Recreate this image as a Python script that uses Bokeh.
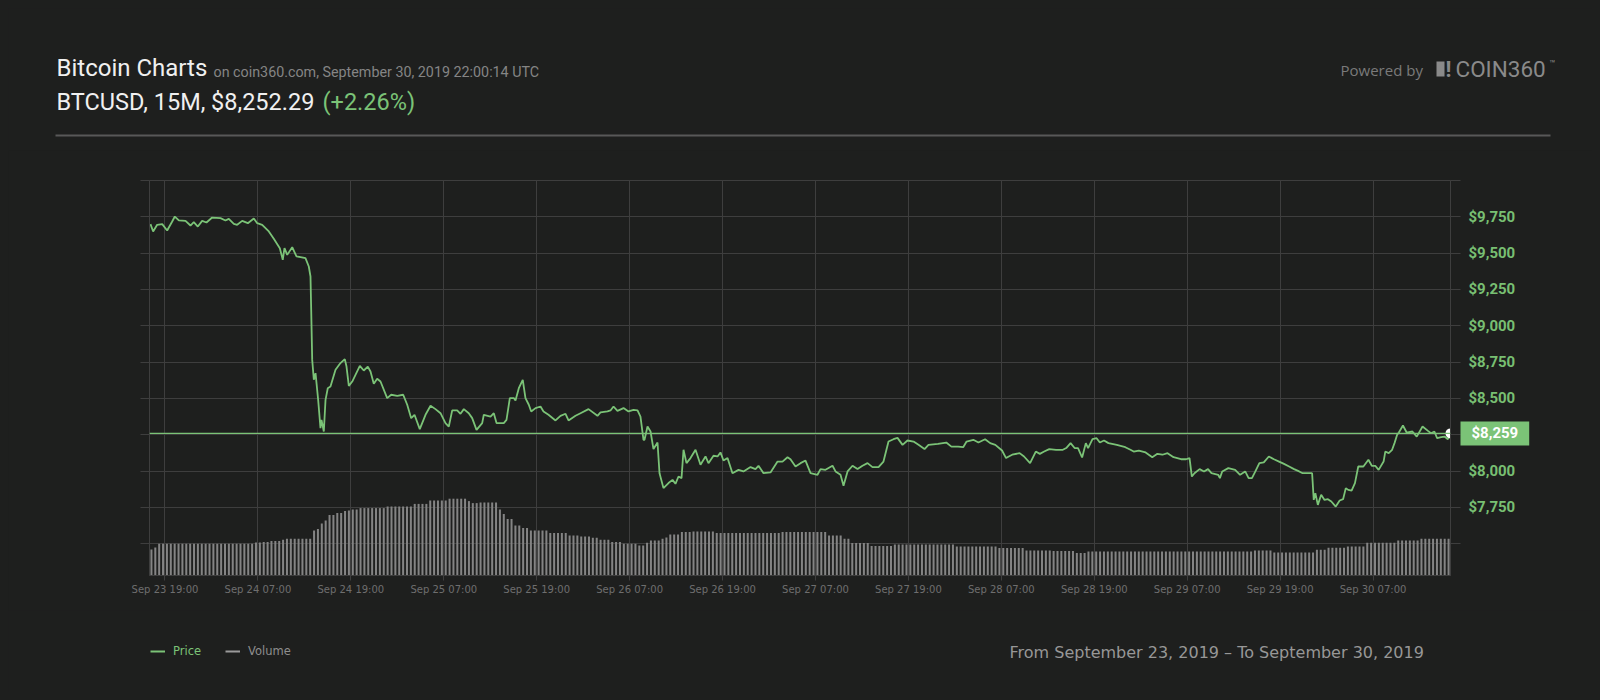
from bokeh.plotting import figure
from bokeh.models import Range1d, LinearAxis, FixedTicker, Span, Label, Legend, LegendItem
from bokeh.embed import file_html
from bokeh.resources import INLINE

# ---------------- data ----------------
# hours since Sep 23 17:00 (chart time), 15M BTCUSD price
price_hours = [
    0.13, 0.47, 0.99, 1.64, 2.28, 2.93, 3.27, 3.79, 4.65, 5.29, 5.72, 6.24, 6.80, 7.36, 8.09, 9.17,
    9.81, 10.24, 10.89, 11.32, 11.97, 12.70, 13.47, 13.91, 14.55, 15.41, 16.05, 16.83, 17.21, 17.43,
    17.78, 18.43, 18.98, 19.50, 20.14, 20.57, 20.79, 20.88, 21.01, 21.22, 21.44, 21.78, 22.08, 22.21,
    22.51, 22.73, 23.02, 23.37, 24.02, 24.66, 25.22, 25.44, 25.74, 26.18, 26.60, 27.16, 27.67, 28.19,
    28.54, 28.96, 29.40, 29.83, 30.69, 31.21, 31.99, 32.76, 33.28, 33.79, 34.22, 34.90, 35.64, 36.29,
    36.93, 37.58, 38.22, 38.65, 39.09, 39.73, 40.16, 40.59, 41.23, 41.67, 42.23, 42.96, 43.17, 44.04,
    44.46, 44.81, 45.75, 46.10, 46.53, 47.04, 47.26, 47.69, 48.20, 48.55, 48.98, 49.29, 49.85, 50.49,
    50.88, 51.52, 52.43, 53.07, 53.72, 54.11, 55.01, 55.66, 56.69, 57.85, 58.24, 59.14, 59.53, 59.92,
    60.43, 61.21, 61.85, 62.50, 63.02, 63.40, 63.79, 63.92, 64.31, 64.70, 65.08, 65.60, 65.86, 66.37,
    67.02, 67.54, 67.92, 68.31, 68.70, 68.96, 69.34, 69.86, 70.51, 71.15, 71.80, 72.18, 72.83, 73.35,
    73.73, 74.12, 74.64, 75.28, 76.06, 76.70, 77.61, 78.25, 78.64, 79.29, 80.19, 81.10, 81.74, 82.39,
    82.77, 83.42, 84.07, 84.71, 85.36, 86.26, 86.65, 87.29, 88.20, 88.59, 89.23, 89.62, 90.14, 90.78,
    91.43, 92.07, 92.72, 93.36, 94.14, 94.78, 95.43, 96.07, 96.59, 97.24, 97.88, 98.66, 99.30, 100.08,
    100.59, 101.81, 102.89, 103.55, 104.42, 105.07, 105.51, 106.38, 107.04, 107.90, 108.56, 109.22,
    110.09, 110.61, 110.96, 111.40, 112.36, 112.93, 113.71, 114.45, 114.97, 115.53, 116.19, 117.07,
    117.94, 118.38, 118.94, 119.46, 119.90, 120.43, 120.91, 121.20, 121.77, 122.30, 122.72, 123.26,
    123.83, 124.91, 126.01, 126.67, 127.09, 127.75, 128.63, 129.49, 130.15, 130.80, 131.46, 132.24,
    133.20, 133.86, 134.30, 134.60, 134.94, 135.60, 136.17, 136.69, 137.13, 138.00, 138.22, 138.52,
    139.31, 140.19, 140.83, 141.49, 141.93, 142.36, 142.80, 143.32, 143.89, 144.54, 145.20, 145.86,
    146.50, 147.16, 147.80, 148.46, 148.90, 149.56, 150.13, 150.34, 150.55, 150.87, 151.30, 151.73,
    152.17, 152.61, 153.18, 153.69, 154.13, 154.48, 154.79, 155.23, 155.66, 156.09, 156.75, 157.40,
    157.84, 158.28, 158.72, 159.36, 159.58, 160.02, 160.46, 160.77, 161.11, 161.33, 161.86, 162.34,
    163.08, 163.64, 164.39, 165.05, 165.48, 165.92, 166.27, 166.80, 167.23, 167.66, 168.00,
]
price_values = [
    9700, 9649, 9695, 9700, 9656, 9718, 9752, 9725, 9722, 9690, 9713, 9683, 9722, 9711, 9745, 9741,
    9725, 9736, 9702, 9695, 9722, 9706, 9738, 9706, 9695, 9649, 9599, 9534, 9454, 9534,
    9488, 9541, 9477, 9472, 9465, 9408, 9339, 9110, 8765, 8628, 8674, 8490, 8295, 8352,
    8272, 8490, 8570, 8582, 8697, 8743, 8770, 8719, 8586, 8616, 8662, 8724, 8692, 8719,
    8685, 8600, 8635, 8616, 8502, 8525, 8518, 8525, 8456, 8364, 8387, 8288, 8387, 8449,
    8426, 8398, 8330, 8306, 8417, 8417, 8394, 8426, 8398, 8364, 8283, 8330, 8387, 8375,
    8398, 8330, 8330, 8352, 8502, 8502, 8485, 8570, 8628, 8502, 8456, 8410, 8433, 8444,
    8410, 8387, 8348, 8380, 8394, 8348, 8380, 8398, 8426, 8380, 8403, 8410, 8417, 8444,
    8414, 8433, 8410, 8421, 8417, 8375, 8215, 8215, 8306, 8272, 8151, 8196, 7985, 7882,
    7917, 7939, 7912, 7962, 7951, 8146, 8054, 8089, 8146, 8043, 8100, 8054, 8105, 8100,
    8128, 8072, 8089, 7985, 8008, 7997, 8027, 8013, 8036, 7985, 7990, 8065, 8065, 8095,
    8081, 8031, 8054, 8072, 7985, 7974, 8013, 8008, 8036, 7997, 7974, 7898, 7997, 8036,
    8013, 8036, 8054, 8027, 8027, 8065, 8203, 8219, 8228, 8180, 8210, 8203, 8180, 8151,
    8180, 8187, 8196, 8168, 8168, 8164, 8203, 8215, 8196, 8219, 8192, 8180,
    8141, 8089, 8100, 8112, 8123, 8100, 8054, 8134, 8118, 8134, 8151, 8146,
    8146, 8158, 8192, 8158, 8158, 8093, 8192, 8158, 8219, 8226, 8196, 8210,
    8192, 8180, 8164, 8146, 8134, 8141, 8128, 8095, 8118, 8112, 8123, 8095,
    8081, 8081, 8089, 7962, 7985, 8013, 7997, 8013, 7985, 7974, 7951, 7997,
    8020, 8008, 7974, 7997, 7951, 7951, 7997, 8054, 8059, 8100, 8081, 8065,
    8049, 8031, 8013, 7997, 7985, 7985, 7985, 7801, 7847, 7767, 7836, 7801,
    7806, 7790, 7755, 7797, 7806, 7882, 7870, 7865, 7917, 8031, 8031, 8077,
    8036, 8036, 8008, 8065, 8134, 8123, 8146, 8192, 8249, 8265, 8313, 8265,
    8272, 8237, 8306, 8278, 8260, 8272, 8226, 8233, 8237, 8219, 8259,
]

# volume (rolling, billions USD) per 30-minute bucket
volume_values = [
    13.0, 14.0, 15.9, 15.9, 15.9, 15.9, 15.9, 15.9, 15.9, 15.9, 15.9, 15.9,
    15.9, 15.9, 15.9, 15.9, 15.9, 15.9, 15.9, 15.9, 15.9, 15.9, 15.9, 15.9,
    15.9, 15.9, 15.9, 16.5, 16.5, 16.7, 16.7, 17.2, 17.2, 17.2, 17.9, 18.4,
    18.4, 18.4, 18.4, 18.4, 18.4, 18.4, 22.5, 23.3, 26.0, 27.5, 30.3, 30.3,
    31.3, 31.3, 32.2, 32.5, 33.0, 33.0, 33.7, 33.7, 33.7, 33.7, 33.7, 33.7,
    33.7, 34.5, 34.5, 34.5, 34.5, 34.5, 34.5, 34.5, 35.8, 35.8, 35.8, 35.8,
    37.5, 37.5, 37.5, 37.5, 37.5, 38.4, 38.4, 38.4, 38.4, 38.4, 37.2, 36.2,
    36.2, 36.5, 36.5, 36.5, 36.5, 36.5, 33.0, 30.8, 28.3, 28.3, 25.0, 25.0,
    23.8, 23.8, 22.5, 22.5, 22.5, 22.5, 22.5, 21.2, 21.2, 21.2, 21.2, 21.2,
    20.0, 20.0, 20.0, 19.5, 19.5, 19.5, 18.9, 18.9, 17.9, 17.9, 17.9, 16.7,
    16.7, 16.7, 15.9, 15.9, 15.9, 15.9, 15.0, 15.0, 16.4, 17.5, 17.5, 17.5,
    18.4, 19.0, 20.5, 20.5, 20.5, 21.7, 21.7, 21.7, 22.0, 22.0, 22.0, 22.0,
    22.0, 22.0, 21.2, 21.2, 21.2, 21.2, 21.2, 21.2, 21.2, 21.2, 21.2, 21.2,
    21.2, 21.2, 21.2, 21.2, 21.2, 21.2, 21.2, 21.7, 21.7, 21.7, 21.7, 21.7,
    21.7, 21.7, 21.7, 21.7, 21.7, 21.7, 21.7, 20.0, 20.0, 20.0, 20.0, 18.4,
    18.4, 16.2, 16.2, 16.2, 16.2, 16.2, 14.7, 14.7, 14.7, 14.7, 14.7, 14.7,
    15.5, 15.5, 15.5, 15.5, 15.5, 15.5, 15.5, 15.5, 15.5, 15.5, 15.5, 15.5,
    15.5, 15.5, 15.5, 15.5, 14.5, 14.5, 14.5, 14.5, 14.5, 14.5, 14.5, 14.5,
    14.5, 14.5, 14.5, 13.7, 13.7, 13.7, 13.7, 13.7, 13.7, 13.7, 12.5, 12.5,
    12.5, 12.5, 12.5, 12.5, 12.5, 12.2, 12.2, 12.2, 12.2, 12.2, 12.2, 11.2,
    11.2, 11.2, 12.0, 12.0, 12.0, 12.0, 12.0, 12.0, 12.0, 12.0, 12.0, 12.0,
    12.0, 12.0, 12.0, 12.0, 12.0, 12.0, 12.0, 12.0, 12.0, 12.0, 12.0, 12.0,
    12.0, 12.0, 12.0, 12.0, 12.0, 12.0, 12.0, 12.0, 12.0, 12.0, 12.0, 12.0,
    12.0, 12.0, 12.0, 12.0, 12.0, 12.0, 12.0, 12.0, 12.0, 12.5, 12.5, 12.5,
    12.5, 12.5, 11.5, 11.5, 11.5, 11.5, 11.5, 11.5, 11.5, 11.5, 11.5, 11.5,
    11.5, 12.9, 12.9, 12.9, 13.9, 13.9, 13.9, 13.9, 13.9, 14.5, 14.5, 14.5,
    14.5, 14.5, 16.4, 16.4, 16.4, 16.4, 16.4, 16.4, 16.4, 16.4, 17.5, 17.5,
    17.5, 17.5, 17.5, 17.5, 18.4, 18.4, 18.4, 18.4, 18.4, 18.4, 18.4, 18.4,
]
volume_hours = [0.25 + 0.5 * i for i in range(len(volume_values))]

tick_hours = [2, 14, 26, 38, 50, 62, 74, 86, 98, 110, 122, 134, 146, 158]
tick_labels = ["Sep 23 19:00", "Sep 24 07:00", "Sep 24 19:00", "Sep 25 07:00", "Sep 25 19:00",
               "Sep 26 07:00", "Sep 26 19:00", "Sep 27 07:00", "Sep 27 19:00", "Sep 28 07:00",
               "Sep 28 19:00", "Sep 29 07:00", "Sep 29 19:00", "Sep 30 07:00"]
price_ticks = [7500, 7750, 8000, 8250, 8500, 8750, 9000, 9250, 9500, 9750, 10000]
price_tick_labels = ["", "$7,750", "$8,000", "", "$8,500", "$8,750", "$9,000", "$9,250",
                     "$9,500", "$9,750", ""]

# ---------------- styles ----------------
BG = "#1e1f1e"
GRID = "#3e3e3e"
GREEN = "#7bc377"
AXGREEN = "#78bf72"
VOLC = "#848484"
W = 1584


def base_fig(h, y0, y1):
    f = figure(width=W, height=h, x_range=Range1d(8, 8 + W), y_range=Range1d(y1, y0),
               x_axis_type=None, y_axis_type=None, output_backend="svg", toolbar_location=None,
               min_border=0, outline_line_color=None, background_fill_color=BG,
               border_fill_color=BG)
    return f


def hlabel(fig, x, y, text, size, color, font="Roboto", style="normal"):
    fig.add_layout(Label(x=x, y=y, text=text, text_font=font, text_font_size=size,
                         text_color=color, text_font_style=style, text_baseline="middle",
                         text_align="left"))


# ---------------- header ----------------
header = base_fig(142, 8, 150)
hlabel(header, 56, 67.8, "Bitcoin Charts", "24px", "#f0f0f0")
hlabel(header, 213, 71.1, "on coin360.com, September 30, 2019 22:00:14 UTC", "14.3px", "#858585")
hlabel(header, 56, 101.3, "BTCUSD, 15M, $8,252.29", "23.5px", "#f0f0f0")
hlabel(header, 322, 101.3, "(+2.26%)", "23.5px", GREEN)
hlabel(header, 1340, 69.9, "Powered by", "15px", "#7a7a7a", font="Open Sans")
header.quad(left=[1436], right=[1444], top=[61], bottom=[76], fill_color="#8a8a8a", line_color=None)
hlabel(header, 1445, 68.5, "!", "22px", "#8a8a8a", style="bold")
hlabel(header, 1455, 68.3, "COIN360", "22.5px", "#8a8a8a")
hlabel(header, 1549, 62.6, "™", "10px", "#8a8a8a")
header.segment(x0=[55], y0=[135], x1=[1550], y1=[135], line_color="#585858", line_width=2)

# ---------------- chart ----------------
p = figure(width=W, height=460, x_range=Range1d(0, 168), y_range=Range1d(7280.6, 10000),
           y_axis_location="right", output_backend="svg", toolbar_location=None,
           min_border_left=141, min_border_right=142, min_border_top=30, min_border_bottom=35,
           background_fill_color=BG, border_fill_color=BG, outline_line_color=GRID)
p.extra_y_ranges = {"vol": Range1d(0, 197.5)}

p.xgrid[0].ticker = FixedTicker(ticks=tick_hours)
p.ygrid[0].ticker = FixedTicker(ticks=price_ticks)
for g in (p.xgrid[0], p.ygrid[0]):
    g.grid_line_color = GRID
    g.grid_line_width = 1

xa = p.xaxis[0]
xa.ticker = FixedTicker(ticks=tick_hours)
xa.major_label_overrides = {t: lab for t, lab in zip(tick_hours, tick_labels)}
xa.axis_line_color = GRID
xa.major_tick_line_color = GRID
xa.major_tick_out = 5
xa.major_tick_in = 0
xa.minor_tick_out = 0
xa.minor_tick_in = 0
xa.major_label_standoff = 3
xa.major_label_text_font = "DejaVu Sans"
xa.major_label_text_font_size = "10px"
xa.major_label_text_color = "#6e6e6e"

ya = p.yaxis[0]
ya.ticker = FixedTicker(ticks=price_ticks)
ya.major_label_overrides = {t: lab for t, lab in zip(price_ticks, price_tick_labels)}
ya.axis_line_color = GRID
ya.major_tick_line_color = GRID
ya.major_tick_out = 10
ya.major_tick_in = 0
ya.minor_tick_out = 0
ya.minor_tick_in = 0
ya.major_label_standoff = 8
ya.major_label_text_font = "Roboto"
ya.major_label_text_font_style = "bold"
ya.major_label_text_font_size = "15px"
ya.major_label_text_color = AXGREEN

la = LinearAxis(ticker=FixedTicker(ticks=price_ticks),
                major_label_overrides={t: "" for t in price_ticks},
                axis_line_color=GRID, major_tick_line_color=GRID, major_tick_out=9,
                major_tick_in=0, minor_tick_out=0, minor_tick_in=0)
p.add_layout(la, "left")

p.vbar(x=volume_hours, top=volume_values, bottom=0, width=0.26, y_range_name="vol",
       fill_color=VOLC, line_color=None)
p.line(price_hours, price_values, line_color=GREEN, line_width=1.8)
p.add_layout(Span(location=price_values[-1], dimension="width", line_color=GREEN, line_width=1.2))
p.scatter([price_hours[-1]], [price_values[-1]], size=10, fill_color="white", line_color=None)

last_label = "${:,}".format(price_values[-1])
p.add_layout(Label(x=169.29, y=price_values[-1], text=last_label, text_font="Roboto",
                   text_font_style="bold", text_font_size="15px", text_color="white",
                   text_baseline="middle", text_align="left", background_fill_color=GREEN,
                   padding=(11, 11, 3, 3)), "left")

# ---------------- footer ----------------
footer = base_fig(82, 610, 692)
r_price = footer.line(x=[-100, -90], y=[-100, -100], line_color=GREEN, line_width=2)
r_vol = footer.line(x=[-100, -90], y=[-100, -100], line_color="#9a9a9a", line_width=2)
for rend, name, col, xloc in ((r_price, "Price", GREEN, 142), (r_vol, "Volume", "#8e8e8e", 217)):
    lg = Legend(items=[LegendItem(label=name, renderers=[rend])], location=(xloc, 34),
                orientation="horizontal", glyph_width=15, glyph_height=14, label_height=14,
                label_standoff=8, padding=0, margin=0, spacing=0, background_fill_alpha=0,
                border_line_color=None, label_text_color=col, label_text_font="DejaVu Sans",
                label_text_font_size="11.5px")
    footer.add_layout(lg)
hlabel(footer, 1009, 652.2, "From September 23, 2019 \u2013 To September 30, 2019", "16px",
       "#979797", font="DejaVu Sans")

html = file_html([header, p, footer], INLINE, title="Bitcoin Charts")
html = html.replace("</head>",
                    "<style>html,body{background:%s;} body{padding:8px !important;}</style></head>" % BG, 1)
open("out.html", "w").write(html)
